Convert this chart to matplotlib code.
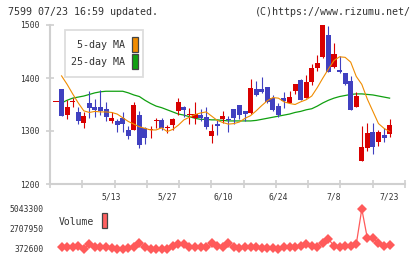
import numpy as np
import pandas as pd
import matplotlib
matplotlib.use("Agg")
import matplotlib.pyplot as plt
from matplotlib.patches import Rectangle
from matplotlib.transforms import blended_transform_factory

# ---------------- data ----------------
trade_dates = pd.bdate_range("2024-04-24", "2024-07-23").drop(
    pd.to_datetime(["2024-04-29", "2024-05-03", "2024-05-06", "2024-07-15"]))
date_text = [f"{d.month}/{d.day}" for d in trade_dates]
tick_labels = ["5/13", "5/27", "6/10", "6/24", "7/8", "7/23"]

opens = [1354, 1379, 1330, 1354, 1335, 1316, 1353, 1345, 1345, 1341,
         1318, 1318, 1324, 1302, 1302, 1330, 1306, 1302, 1318, 1321,
         1305, 1311, 1338, 1345, 1330, 1325, 1330, 1326, 1291, 1313,
         1323, 1323, 1341, 1349, 1337, 1334, 1379, 1379, 1383, 1362,
         1347, 1362, 1352, 1375, 1396, 1362, 1392, 1419, 1440, 1481,
         1421, 1415, 1409, 1394, 1345, 1243, 1268, 1298, 1279, 1292,
         1294]
highs = [1354, 1380, 1358, 1362, 1345, 1336, 1375, 1360, 1377, 1354,
         1335, 1323, 1336, 1309, 1355, 1338, 1308, 1309, 1324, 1324,
         1311, 1325, 1362, 1348, 1343, 1355, 1341, 1345, 1313, 1321,
         1338, 1328, 1341, 1349, 1337, 1398, 1394, 1402, 1383, 1368,
         1353, 1374, 1375, 1389, 1398, 1406, 1426, 1443, 1500, 1498,
         1466, 1441, 1409, 1404, 1374, 1309, 1315, 1315, 1302, 1306,
         1323]
lows = [1354, 1328, 1323, 1345, 1313, 1306, 1325, 1327, 1330, 1319,
        1316, 1299, 1299, 1285, 1301, 1268, 1276, 1287, 1305, 1302,
        1296, 1302, 1330, 1326, 1314, 1313, 1318, 1304, 1278, 1293,
        1315, 1298, 1313, 1323, 1318, 1333, 1366, 1372, 1352, 1338,
        1327, 1343, 1352, 1370, 1358, 1362, 1387, 1413, 1438, 1412,
        1419, 1409, 1386, 1340, 1345, 1243, 1262, 1257, 1272, 1279,
        1289]
closes = [1354, 1329, 1345, 1355, 1318, 1328, 1344, 1339, 1338, 1326,
          1324, 1312, 1314, 1290, 1349, 1274, 1287, 1303, 1319, 1305,
          1306, 1322, 1354, 1340, 1331, 1332, 1324, 1308, 1300, 1310,
          1328, 1320, 1325, 1331, 1332, 1381, 1368, 1374, 1355, 1340,
          1331, 1357, 1364, 1389, 1358, 1392, 1419, 1428, 1500, 1412,
          1445, 1412, 1389, 1340, 1366, 1270, 1296, 1270, 1298, 1287,
          1311]
ma5 = [np.nan, 1404, 1388, 1370, 1353, 1338, 1335, 1337, 1336, 1336,
       1335, 1332, 1325, 1318, 1313, 1308, 1305, 1302, 1302, 1306,
       1299, 1303, 1311, 1321, 1326, 1331, 1334, 1336, 1328, 1320,
       1316, 1313, 1314, 1317, 1324, 1329, 1338, 1348, 1357, 1363,
       1362, 1355, 1352, 1350, 1355, 1359, 1366, 1382, 1400, 1417,
       1433, 1440, 1439, 1430, 1403, 1388, 1360, 1337, 1314, 1305,
       1299]
ma25 = [np.nan, 1353, 1358, 1362, 1364, 1366, 1369, 1372, 1374, 1375,
        1375, 1375, 1375, 1372, 1368, 1365, 1358, 1352, 1347, 1344,
        1340, 1336, 1332, 1330, 1327, 1324, 1322, 1322, 1321, 1321,
        1320, 1319, 1319, 1319, 1319, 1319, 1320, 1322, 1324, 1326,
        1328, 1330, 1332, 1335, 1337, 1340, 1342, 1347, 1353, 1358,
        1362, 1365, 1367, 1369, 1370, 1370, 1369, 1368, 1366, 1364,
        1362]
volume = [np.nan, 570000, 570000, 560000, 760000, 420000, 920000, 640000, 580000, 550000,
          480000, 410000, 380000, 500000, 660000, 1130000, 550000, 390000, 390000, 390000,
          400000, 720000, 900000, 1010000, 640000, 570000, 570000, 570000, 1040000, 720000,
          570000, 1040000, 570000, 480000, 570000, 570000, 570000, 480000, 480000, 480000,
          400000, 570000, 570000, 640000, 720000, 920000, 720000, 640000, 1040000, 1540000,
          720000, 640000, 690000, 780000, 920000, 5043300, 1620000, 1620000, 1040000, 780000,
          840000]
price_ticks = [1200, 1300, 1400, 1500]
vol_ticks = [372600, 2707950, 5043300]

# ---------------- style ----------------
W, H = 420, 259
RED = "#d80000"
BLUE = "#4040c0"
ORANGE = "#f08c00"
GREEN = "#10a010"
VOLC = "#ff5a5a"
TXT = "#333333"
AXC = "#d0d0d0"
MONO = "DejaVu Sans Mono"
STEP = 5.56  # px per candle
X0 = 56      # px of first candle

fig = plt.figure(figsize=(W / 100, H / 100), dpi=100)
fig.patch.set_facecolor("white")

x = np.arange(len(closes))
xlim = ((50 - X0) / STEP, (405 - X0) / STEP)

ax = fig.add_axes([50 / W, 1 - 184 / H, 355 / W, 159 / H])
ax.set_xlim(*xlim)
ax.set_ylim(1200, 1500)
ax.set_facecolor("none")

o = np.array(opens, float); c = np.array(closes, float)
hi = np.array(highs, float); lo = np.array(lows, float)
up = c >= o
colors = np.where(up, RED, BLUE)
ax.vlines(x, lo, hi, colors=colors, linewidth=0.8, zorder=3, clip_on=False)
bottom = np.minimum(o, c)
height = np.maximum(np.abs(c - o), 1.9)
ax.bar(x, height, bottom=bottom, width=0.9, color=colors, linewidth=0,
       zorder=4, clip_on=False)

ax.plot(x, ma5, color=ORANGE, linewidth=0.8, zorder=5)
ax.plot(x, ma25, color=GREEN, linewidth=0.9, zorder=2)

for s in ["top", "right"]:
    ax.spines[s].set_visible(False)
for s in ["left", "bottom"]:
    ax.spines[s].set_color(AXC)
    ax.spines[s].set_linewidth(1.5)

ax.set_yticks(price_ticks)
ax.set_yticklabels([str(v) for v in price_ticks], family=MONO)
ax.tick_params(axis="y", direction="inout", length=5.8, width=1.2, color=AXC,
               labelcolor=TXT, labelsize=5.8, pad=4.5)
ax.set_xticks(np.linspace(xlim[0], xlim[1], 12))
ax.set_xticklabels([])
ax.tick_params(axis="x", direction="inout", length=5.8, width=1.2, color=AXC)

trans = blended_transform_factory(ax.transData, ax.transAxes)
for t in tick_labels:
    i = date_text.index(t)
    ax.text(i, -13 / 159, t, transform=trans, ha="center", va="center",
            fontsize=5.8, family=MONO, color=TXT)

# legend box
fig.patches.append(Rectangle((65 / W, 1 - 77 / H), 78 / W, 47 / H,
                             transform=fig.transFigure, facecolor="white",
                             edgecolor="#dddddd", linewidth=1.3, zorder=10))
fig.text(125 / W, 1 - 45.5 / H, "5-day MA", ha="right", va="center",
         fontsize=7.2, family=MONO, color=TXT, zorder=11)
fig.text(125 / W, 1 - 62 / H, "25-day MA", ha="right", va="center",
         fontsize=7.2, family=MONO, color=TXT, zorder=11)
for yy, col in [(37, ORANGE), (54, GREEN)]:
    fig.patches.append(Rectangle((131.7 / W, 1 - (yy + 15) / H), 6 / W, 15 / H,
                                 transform=fig.transFigure, facecolor=col,
                                 edgecolor="#444444", linewidth=0.9, zorder=11))

# volume panel
av = fig.add_axes([50 / W, 1 - 249 / H, 355 / W, 40 / H])
av.set_facecolor("none")
av.set_xlim(*xlim)
av.set_ylim(vol_ticks[0], vol_ticks[-1])
for s in av.spines.values():
    s.set_visible(False)
av.set_xticks([])
av.set_yticks(vol_ticks)
av.set_yticklabels([str(v) for v in vol_ticks], family=MONO)
av.tick_params(axis="y", length=0, labelcolor=TXT, labelsize=5.8, pad=4.3)
av.plot(x, volume, color=VOLC, linewidth=0.9, marker="D", markersize=4.6,
        markeredgewidth=0, clip_on=False)

fig.text(59 / W, 1 - 222 / H, "Volume", ha="left", va="center",
         fontsize=7.0, family=MONO, color=TXT)
fig.patches.append(Rectangle((101.7 / W, 1 - 228 / H), 5.6 / W, 15 / H,
                             transform=fig.transFigure, facecolor="#ff6060",
                             edgecolor="#444444", linewidth=0.9))

# header
fig.text(8 / W, 1 - 12 / H, "7599 07/23 16:59 updated.", ha="left", va="center",
         fontsize=7.2, family=MONO, color=TXT)
fig.text(411 / W, 1 - 12 / H, "(C)https://www.rizumu.net/", ha="right", va="center",
         fontsize=7.2, family=MONO, color=TXT)

fig.savefig("out.png", dpi=100, facecolor="white")
